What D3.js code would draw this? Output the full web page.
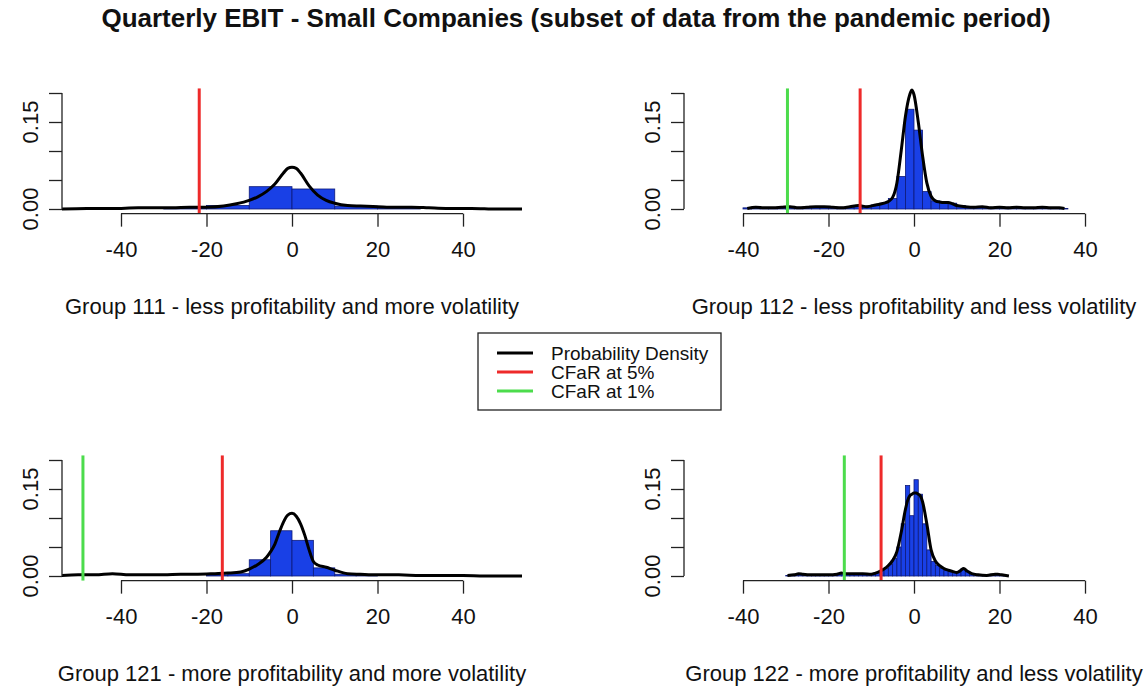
<!DOCTYPE html>
<html>
<head>
<meta charset="utf-8">
<script src="https://cdn.jsdelivr.net/npm/d3@7"></script>
<style>
body { margin: 0; background: #fff; }
text { font-family: "Liberation Sans", Arial, sans-serif; fill: #111; }
</style>
</head>
<body>
<div id="chart"></div>
<script>
var width = 1147, height = 690;

var mainTitle = "Quarterly EBIT - Small Companies (subset of data from the pandemic period)";
var groupTitles = ["Group 111 - less profitability and more volatility",
  "Group 112 - less profitability and less volatility",
  "Group 121 - more profitability and more volatility",
  "Group 122 - more profitability and less volatility"];

var xTicks = [-40, -20, 0, 20, 40];
var yTicks = [0, 0.05, 0.10, 0.15, 0.20];
var yLabelTicks = [0, 0.15];

var legendLabels = ["Probability Density", "CFaR at 5%", "CFaR at 1%"];
var legendColors = ["#000000", "#ee2a2a", "#4cdc4c"];

// CFaR lines (null = not drawn)
var cfar5 = [-21.7, -12.6, -16.3, -7.7];
var cfar1 = [null, -29.6, -48.9, -16.3];

// histograms: first break, bin width, bar heights (density)
var g111Start = -30, g111Width = 10;
var g111Heights = [0.002, 0.006, 0.0385, 0.0345, 0.005, 0.002];

var g112Start = -40, g112Width = 2;
var g112Heights = [0.002, 0.003, 0.002, 0.002, 0.003, 0.003, 0.003, 0.003, 0.003, 0.003,
  0.003, 0.003, 0.004, 0.005, 0.005, 0.007, 0.010, 0.018, 0.056, 0.172,
  0.136, 0.030, 0.014, 0.011, 0.010, 0.006, 0.004, 0.003, 0.003, 0.003,
  0.003, 0.003, 0.002, 0.002, 0.002, 0.002, 0.002, 0.001];

var g121Start = -20, g121Width = 5;
var g121Heights = [0.002, 0.004, 0.028, 0.078, 0.0615, 0.014, 0.003, 0.001];

var g122Start = -30, g122Width = 1;
var g122Heights = [0.001, 0.002, 0.003, 0.003, 0.002, 0.002, 0.001, 0.001, 0.002, 0.002,
  0.002, 0.002, 0.003, 0.005, 0.004, 0.004, 0.003, 0.004, 0.003, 0.003,
  0.004, 0.006, 0.009, 0.013, 0.020, 0.030, 0.050, 0.090, 0.156, 0.104,
  0.166, 0.141, 0.090, 0.045, 0.025, 0.018, 0.013, 0.010, 0.008, 0.006,
  0.006, 0.013, 0.008, 0.004, 0.003, 0.002, 0.002, 0.002, 0.002, 0.003,
  0.002, 0.001];

// density curves
var g111DensX = [-54, -48, -42, -36, -32, -28, -24, -20, -16, -13, -10, -8, -6, -4, -2, -1, 0, 1, 2, 4,
  6, 8, 10, 13, 16, 20, 24, 28, 32, 36, 42, 48, 54];
var g111DensY = [0.000, 0.001, 0.001, 0.002, 0.002, 0.002, 0.003, 0.003, 0.005, 0.009,
  0.015, 0.021, 0.030, 0.043, 0.062, 0.070, 0.072, 0.070, 0.062, 0.040,
  0.024, 0.015, 0.010, 0.006, 0.005, 0.004, 0.003, 0.003, 0.002, 0.001,
  0.001, 0.000, 0.000];

var g112DensX = [-39, -37, -35, -33, -31, -29, -27, -25, -23, -21, -19, -17, -15, -13, -11, -9, -7, -6, -5, -4,
  -3, -2, -1, -0.5, 0, 1, 2, 3, 4, 5, 6, 7, 8, 9, 10, 12, 14, 16, 18, 20,
  22, 24, 26, 28, 30, 32, 34, 35.2];
var g112DensY = [0.001, 0.003, 0.002, 0.002, 0.003, 0.004, 0.002, 0.003, 0.004, 0.004,
  0.003, 0.002, 0.004, 0.006, 0.004, 0.007, 0.010, 0.013, 0.020, 0.045,
  0.100, 0.160, 0.197, 0.205, 0.197, 0.150, 0.092, 0.045, 0.022, 0.014,
  0.012, 0.011, 0.011, 0.009, 0.006, 0.004, 0.003, 0.004, 0.002, 0.003,
  0.002, 0.003, 0.002, 0.002, 0.003, 0.002, 0.002, 0.001];

var g121DensX = [-54, -50, -46, -42, -38, -34, -30, -26, -22, -18, -15, -12, -10, -8, -6, -5, -4, -3, -2, -1,
  0, 1, 2, 3, 4, 5, 6, 8, 10, 13, 16, 20, 25, 30, 35, 40, 45, 50, 54];
var g121DensY = [0.001, 0.002, 0.002, 0.004, 0.002, 0.002, 0.002, 0.003, 0.003, 0.004,
  0.005, 0.007, 0.012, 0.020, 0.032, 0.042, 0.055, 0.075, 0.093, 0.105,
  0.108, 0.103, 0.090, 0.070, 0.045, 0.025, 0.019, 0.015, 0.010, 0.004,
  0.003, 0.002, 0.002, 0.001, 0.001, 0.001, 0.000, 0.000, 0.000];

var g122DensX = [-29.6, -28, -27, -26, -24, -22, -20, -18, -17, -16, -14, -12, -10, -9, -8, -7, -6, -5, -4, -3,
  -2, -1.5, -1, -0.5, 0, 0.5, 1, 1.5, 2, 3, 4, 5, 6, 7, 8, 9, 10, 11, 11.6, 12.5,
  13.5, 15, 17, 19, 19.6, 20.5, 22.2];
var g122DensY = [0.001, 0.002, 0.004, 0.003, 0.002, 0.002, 0.002, 0.003, 0.005, 0.004,
  0.004, 0.004, 0.003, 0.005, 0.008, 0.012, 0.018, 0.027, 0.042, 0.075,
  0.115, 0.130, 0.138, 0.141, 0.143, 0.143, 0.141, 0.138, 0.128, 0.090,
  0.045, 0.026, 0.018, 0.013, 0.010, 0.008, 0.006, 0.010, 0.013, 0.008,
  0.004, 0.002, 0.001, 0.003, 0.003, 0.002, 0.000];

var panels = [
  {title: groupTitles[0], hStart: g111Start, hWidth: g111Width, h: g111Heights, dx: g111DensX, dy: g111DensY, c5: cfar5[0], c1: cfar1[0]},
  {title: groupTitles[1], hStart: g112Start, hWidth: g112Width, h: g112Heights, dx: g112DensX, dy: g112DensY, c5: cfar5[1], c1: cfar1[1]},
  {title: groupTitles[2], hStart: g121Start, hWidth: g121Width, h: g121Heights, dx: g121DensX, dy: g121DensY, c5: cfar5[2], c1: cfar1[2]},
  {title: groupTitles[3], hStart: g122Start, hWidth: g122Width, h: g122Heights, dx: g122DensX, dy: g122DensY, c5: cfar5[3], c1: cfar1[3]}
];

var svg = d3.select("#chart")
  .append("svg")
    .attr("width", width)
    .attr("height", height);

svg.append("rect")
  .attr("width", width)
  .attr("height", height)
  .attr("fill", "#fff");

svg.append("text")
  .attr("x", 576)
  .attr("y", 27)
  .attr("text-anchor", "middle")
  .style("font-size", "26px")
  .style("font-weight", "bold")
  .text(mainTitle);

// plot region of one panel (R style, axes on the region edge)
var px0 = 62, plotW = 460, py0 = 88.36, plotH = 125.28;
var offsets = [[0, 0], [622, 0], [0, 367], [622, 367]];

panels.forEach(function (p, i) { drawPanel(p, i, offsets[i]); });

function drawPanel(p, i, off) {
  var g = svg.append("g")
    .attr("transform", "translate(" + off[0] + "," + off[1] + ")");

  var x = d3.scaleLinear().domain([-53.8, 53.8]).range([px0, px0 + plotW]);
  var y = d3.scaleLinear().domain([-0.008, 0.208]).range([py0 + plotH, py0]);

  var clipId = "clip" + i;
  g.append("clipPath").attr("id", clipId)
    .append("rect")
      .attr("x", px0).attr("y", py0)
      .attr("width", plotW).attr("height", plotH);

  var plot = g.append("g").attr("clip-path", "url(#" + clipId + ")");

  plot.selectAll("rect.bar")
    .data(p.h)
    .enter()
    .append("rect")
      .attr("class", "bar")
      .attr("x", function (d, k) { return x(p.hStart + k * p.hWidth); })
      .attr("width", x(p.hWidth) - x(0))
      .attr("y", function (d) { return y(d); })
      .attr("height", function (d) { return y(0) - y(d); })
      .attr("fill", "#1940e6")
      .attr("stroke", "#0e1a78")
      .attr("stroke-width", 0.8);

  var line = d3.line()
    .x(function (d) { return x(d[0]); })
    .y(function (d) { return y(d[1]); })
    .curve(d3.curveMonotoneX);

  plot.append("path")
    .datum(d3.zip(p.dx, p.dy))
    .attr("d", line)
    .attr("fill", "none")
    .attr("stroke", "#000")
    .attr("stroke-width", 3)
    .attr("stroke-linejoin", "round");

  [[p.c1, legendColors[2]], [p.c5, legendColors[1]]].forEach(function (c) {
    if (c[0] == null) return;
    plot.append("line")
      .attr("x1", x(c[0])).attr("x2", x(c[0]))
      .attr("y1", py0).attr("y2", py0 + plotH)
      .attr("stroke", c[1])
      .attr("stroke-width", 3);
  });

  // x axis, R draws its line only from first to last tick
  var xAxis = g.append("g")
    .attr("transform", "translate(0," + (py0 + plotH) + ")")
    .call(d3.axisBottom(x).tickValues(xTicks).tickSize(13).tickPadding(15).tickSizeOuter(0)
      .tickFormat(function (d) { return String(d); }));
  xAxis.attr("font-size", null).attr("font-family", null);
  xAxis.select(".domain").attr("d", "M" + x(xTicks[0]) + ",0H" + x(xTicks[xTicks.length - 1]));
  xAxis.selectAll("path, line").attr("stroke", "#222").attr("stroke-width", 1.3);
  xAxis.selectAll("text").style("font-size", "22px");

  // y axis
  var yAxis = g.append("g")
    .attr("transform", "translate(" + px0 + ",0)")
    .call(d3.axisLeft(y).tickValues(yTicks).tickSize(13).tickFormat("").tickSizeOuter(0));
  yAxis.select(".domain").attr("d", "M0," + y(yTicks[0]) + "V" + y(yTicks[yTicks.length - 1]));
  yAxis.selectAll("path, line").attr("stroke", "#222").attr("stroke-width", 1.3);

  g.selectAll("text.ylab")
    .data(yLabelTicks)
    .enter()
    .append("text")
      .attr("class", "ylab")
      .attr("transform", function (d) { return "translate(38," + y(d) + ") rotate(-90)"; })
      .attr("text-anchor", "middle")
      .style("font-size", "22px")
      .text(d3.format(".2f"));

  g.append("text")
    .attr("x", px0 + plotW / 2)
    .attr("y", 314)
    .attr("text-anchor", "middle")
    .style("font-size", "22px")
    .text(p.title);
}

// legend
var legend = svg.append("g");
legend.append("rect")
  .attr("x", 478).attr("y", 333)
  .attr("width", 243).attr("height", 77)
  .attr("fill", "#fff")
  .attr("stroke", "#222")
  .attr("stroke-width", 1.3);

legendLabels.forEach(function (lab, k) {
  var ly = 353 + k * 19;
  legend.append("line")
    .attr("x1", 497).attr("x2", 533)
    .attr("y1", ly).attr("y2", ly)
    .attr("stroke", legendColors[k])
    .attr("stroke-width", 3);
  legend.append("text")
    .attr("x", 551).attr("y", ly + 6.5)
    .style("font-size", "19px")
    .text(lab);
});
</script>
</body>
</html>
